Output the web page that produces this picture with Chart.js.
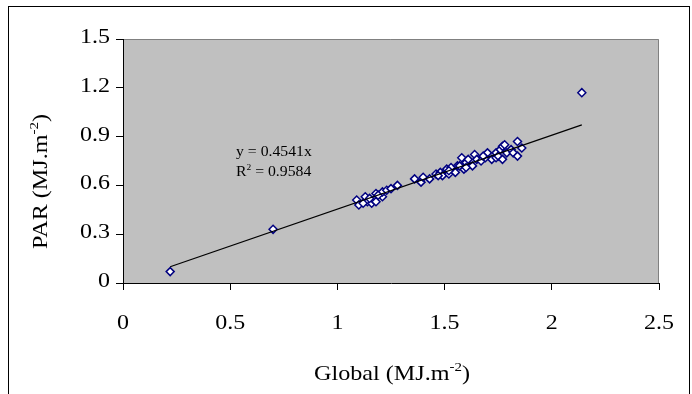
<!DOCTYPE html>
<html>
<head>
<meta charset="utf-8">
<script src="https://cdn.jsdelivr.net/npm/chart.js@4/dist/chart.umd.min.js"></script>
<style>
  body { margin: 0; background: #fff; }
  canvas { display: block; }
</style>
</head>
<body>
<canvas id="par-chart" width="692" height="394"></canvas>
<script>
// Global radiation vs PAR (MJ.m-2)
const globalRad = [0.22, 0.70, 2.14,
  1.09, 1.10, 1.13, 1.14, 1.16, 1.17, 1.18, 1.18, 1.21, 1.21, 1.23, 1.25, 1.28,
  1.36, 1.39, 1.40, 1.43, 1.46, 1.48, 1.49, 1.51, 1.52, 1.53, 1.55, 1.56, 1.58,
  1.59, 1.60, 1.61, 1.63, 1.64, 1.65, 1.67, 1.69, 1.70, 1.72, 1.74, 1.74, 1.75,
  1.76, 1.77, 1.77, 1.78, 1.79, 1.81, 1.82, 1.84, 1.84, 1.86,
  1.12, 1.15, 1.19, 1.47, 1.57, 1.60, 1.68, 1.52];
const parRad = [0.07, 0.33, 1.17,
  0.51, 0.48, 0.53, 0.50, 0.49, 0.51, 0.50, 0.55, 0.53, 0.56, 0.57, 0.58, 0.60,
  0.64, 0.62, 0.65, 0.64, 0.67, 0.68, 0.66, 0.70, 0.67, 0.71, 0.68, 0.72, 0.77,
  0.70, 0.74, 0.76, 0.72, 0.79, 0.76, 0.75, 0.77, 0.80, 0.76, 0.77, 0.80, 0.78,
  0.82, 0.76, 0.84, 0.85, 0.80, 0.82, 0.80, 0.87, 0.78, 0.83,
  0.49, 0.52, 0.54, 0.66, 0.72, 0.71, 0.78, 0.69];
const xTicks = [0, 0.5, 1, 1.5, 2, 2.5];
const yTicks = [0, 0.3, 0.6, 0.9, 1.2, 1.5];
const trendSlope = 0.4541;
const trendR2 = 0.9584;

const serif = '"Liberation Serif", "Times New Roman", serif';
// the original picture is stretched sideways a little, so is the text
const stretch = 1.2;

const points = globalRad.map((g, i) => ({ x: g, y: parRad[i] }));
const xMin = Math.min(...globalRad);
const xMax = Math.max(...globalRad);
const trend = [{ x: xMin, y: trendSlope * xMin }, { x: xMax, y: trendSlope * xMax }];
const tickFmt = v => String(Math.round(v * 10) / 10);

// text with a superscript; x is the centre (or left), width scaled by sx
function drawSup(ctx, base, sup, tail, x, y, size, sx, align) {
  const supSize = Math.round(size * 0.62);
  ctx.font = size + 'px ' + serif;
  const wb = ctx.measureText(base).width;
  const wt = ctx.measureText(tail).width;
  ctx.font = supSize + 'px ' + serif;
  const ws = ctx.measureText(sup).width;
  const total = wb + ws + wt;
  ctx.save();
  ctx.translate(x, y);
  ctx.scale(sx, 1);
  const start = align === 'center' ? -total / 2 : 0;
  ctx.textAlign = 'left';
  ctx.textBaseline = 'alphabetic';
  ctx.font = size + 'px ' + serif;
  ctx.fillText(base, start, 0);
  ctx.fillText(tail, start + wb + ws, 0);
  ctx.font = supSize + 'px ' + serif;
  ctx.fillText(sup, start + wb, -size * 0.42);
  ctx.restore();
}

function drawText(ctx, text, x, y, size, sx, align) {
  ctx.save();
  ctx.translate(x, y);
  ctx.scale(sx, 1);
  ctx.font = size + 'px ' + serif;
  ctx.textAlign = align;
  ctx.textBaseline = 'alphabetic';
  ctx.fillText(text, 0, 0);
  ctx.restore();
}

const framePlugin = {
  id: 'frame',
  beforeDraw(chart) {
    const { ctx, chartArea: a } = chart;
    ctx.save();
    ctx.fillStyle = '#fff';
    ctx.fillRect(0, 0, chart.width, chart.height);
    ctx.strokeStyle = '#000';
    ctx.lineWidth = 1;
    ctx.strokeRect(8.5, 6.5, 681, 420);
    ctx.fillStyle = '#c0c0c0';
    ctx.fillRect(a.left, a.top, a.right - a.left, a.bottom - a.top);
    ctx.strokeStyle = '#808080';
    ctx.beginPath();
    ctx.moveTo(a.left, a.top + 0.5);
    ctx.lineTo(a.right - 0.5, a.top + 0.5);
    ctx.lineTo(a.right - 0.5, a.bottom);
    ctx.stroke();
    ctx.restore();
  },
  afterDraw(chart) {
    const { ctx, scales } = chart;
    ctx.save();
    ctx.fillStyle = '#000';
    // tick labels
    xTicks.forEach(v => drawText(ctx, tickFmt(v), scales.x.getPixelForValue(v), 329, 20, stretch, 'center'));
    yTicks.forEach(v => drawText(ctx, tickFmt(v), 110, scales.y.getPixelForValue(v) + 4, 20, stretch, 'right'));
    // x axis title
    drawSup(ctx, 'Global (MJ.m', '-2', ')', 392, 380, 21, 1.15, 'center');
    // y axis title, rotated, starting just under the 0.3 label
    ctx.save();
    ctx.translate(47, 249);
    ctx.rotate(-Math.PI / 2);
    drawSup(ctx, 'PAR (MJ.m', '-2', ')', 0, 0, 21, 1.15, 'left');
    ctx.restore();
    // trendline equation
    drawText(ctx, 'y = ' + trendSlope + 'x', 236, 156, 15, 1.05, 'left');
    drawSup(ctx, 'R', '2', ' = ' + trendR2, 236, 176, 15, 1.05, 'left');
    ctx.restore();
  }
};

new Chart(document.getElementById('par-chart'), {
  type: 'scatter',
  data: {
    datasets: [
      {
        type: 'line',
        data: trend,
        borderColor: '#000',
        borderWidth: 1.3,
        pointRadius: 0,
        order: 0
      },
      {
        data: points,
        pointStyle: 'rectRot',
        pointRadius: 4,
        backgroundColor: '#fff',
        borderColor: '#000080',
        borderWidth: 1.5,
        order: 1
      }
    ]
  },
  options: {
    responsive: false,
    animation: false,
    layout: { padding: { top: 39, right: 33, left: 0, bottom: 0 } },
    plugins: { legend: { display: false }, tooltip: { enabled: false } },
    scales: {
      x: {
        type: 'linear',
        min: xTicks[0],
        max: xTicks[xTicks.length - 1],
        afterBuildTicks: s => { s.ticks = xTicks.map(v => ({ value: v })); },
        afterFit: s => { s.height = 111; },
        ticks: { display: false },
        grid: { drawOnChartArea: false, drawTicks: true, tickLength: 7, color: '#000' },
        border: { color: '#000', width: 1 }
      },
      y: {
        min: yTicks[0],
        max: yTicks[yTicks.length - 1],
        afterBuildTicks: s => { s.ticks = yTicks.map(v => ({ value: v })); },
        afterFit: s => { s.width = 123; },
        ticks: { display: false },
        grid: { drawOnChartArea: false, drawTicks: true, tickLength: 7, color: '#000' },
        border: { color: '#000', width: 1 }
      }
    }
  },
  plugins: [framePlugin]
});
</script>
</body>
</html>
